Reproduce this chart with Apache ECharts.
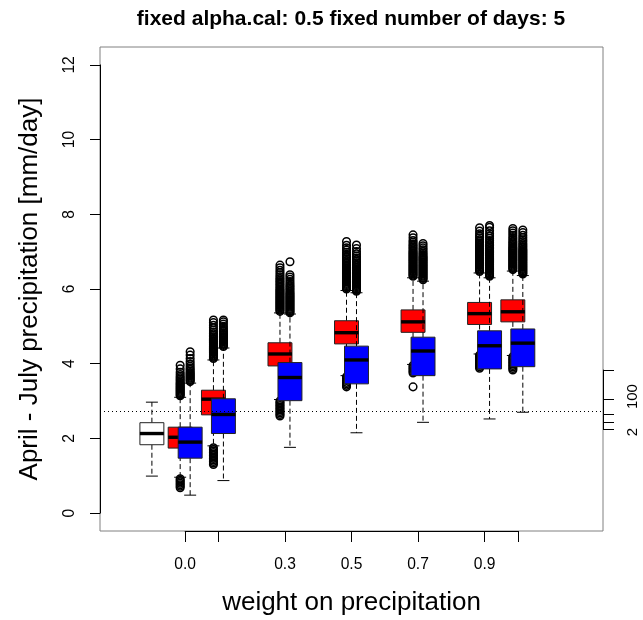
<!DOCTYPE html>
<html>
<head>
<meta charset="utf-8">
<script src="https://cdn.jsdelivr.net/npm/echarts@6/dist/echarts.min.js"></script>
<style>html,body{margin:0;padding:0;background:#fff;}#c{width:643px;height:620px;}</style>
</head>
<body>
<div id="c"></div>
<script>
// ---------------- DATA ----------------
const titleText = 'fixed alpha.cal: 0.5 fixed number of days: 5';
const yTitle = 'April - July precipitation [mm/day]';
const xTitle = 'weight on precipitation';

const yTicks = [0, 2, 4, 6, 8, 10, 12];
const xTickPos = [2, 3, 5, 7, 9, 11, 12];
const xLabelPos = [2, 5, 7, 9, 11];
const xLabels = ['0.0', '0.3', '0.5', '0.7', '0.9'];

const rightTickVals = [2.25, 2.44, 2.65, 3.05, 3.83];
const rightLabelPos = [2.17, 3.12];
const rightLabels = ['2', '100'];

const refLine = 2.73;

// observed (white) box: [lower whisker, Q1, median, Q3, upper whisker]
const obsPos = 1;
const obsStats = [0.99, 1.83, 2.13, 2.42, 2.97];

// simulated groups
const groupPos = [2, 3, 5, 7, 9, 11, 12];
const redStats = [
  [0.96, 1.74, 2.03, 2.30, 3.10],
  [1.80, 2.63, 3.05, 3.29, 4.10],
  [3.04, 3.94, 4.26, 4.56, 5.36],
  [3.68, 4.53, 4.83, 5.15, 5.96],
  [3.98, 4.84, 5.12, 5.44, 6.30],
  [4.26, 5.05, 5.34, 5.64, 6.43],
  [4.22, 5.12, 5.39, 5.71, 6.48]
];
const blueStats = [
  [0.48, 1.47, 1.90, 2.30, 3.48],
  [0.87, 2.13, 2.64, 3.06, 4.42],
  [1.76, 3.01, 3.63, 4.03, 5.33],
  [2.15, 3.46, 4.10, 4.47, 5.90],
  [2.43, 3.68, 4.34, 4.71, 6.21],
  [2.52, 3.86, 4.48, 4.88, 6.30],
  [2.70, 3.92, 4.55, 4.93, 6.36]
];
const redOutHigh = [
  [3.14,3.17,3.20,3.23,3.26,3.29,3.32,3.35,3.38,3.41,3.44,3.47,3.50,3.54,3.58,3.62,3.66,3.71,3.77,3.86,3.96],
  [4.14,4.17,4.20,4.23,4.26,4.29,4.32,4.35,4.38,4.41,4.44,4.47,4.50,4.53,4.56,4.59,4.62,4.65,4.68,4.72,4.76,4.80,4.85,4.90,4.96,5.03,5.10,5.17],
  [5.40,5.43,5.46,5.49,5.52,5.55,5.58,5.61,5.64,5.67,5.70,5.73,5.76,5.79,5.82,5.85,5.88,5.91,5.94,5.97,6.00,6.04,6.08,6.12,6.16,6.20,6.24,6.28,6.33,6.38,6.44,6.50,6.57,6.64],
  [6.00,6.03,6.06,6.09,6.12,6.15,6.18,6.21,6.24,6.27,6.30,6.33,6.36,6.39,6.42,6.45,6.48,6.51,6.54,6.57,6.60,6.64,6.68,6.72,6.76,6.80,6.84,6.88,6.93,6.98,7.04,7.10,7.17,7.27],
  [6.34,6.37,6.40,6.43,6.46,6.49,6.52,6.55,6.58,6.61,6.64,6.67,6.70,6.73,6.76,6.79,6.82,6.85,6.88,6.91,6.94,6.97,7.00,7.04,7.08,7.12,7.16,7.20,7.25,7.30,7.37,7.45],
  [6.47,6.50,6.53,6.56,6.59,6.62,6.65,6.68,6.71,6.74,6.77,6.80,6.83,6.86,6.89,6.92,6.95,6.98,7.01,7.04,7.07,7.10,7.13,7.16,7.20,7.24,7.28,7.32,7.37,7.42,7.48,7.55,7.64],
  [6.52,6.55,6.58,6.61,6.64,6.67,6.70,6.73,6.76,6.79,6.82,6.85,6.88,6.91,6.94,6.97,7.00,7.03,7.06,7.09,7.12,7.16,7.20,7.24,7.28,7.33,7.38,7.44,7.50,7.56,7.62]
];
const redOutLow = [
  [0.68,0.72,0.76,0.80,0.84,0.88,0.92],
  [1.30,1.34,1.38,1.42,1.46,1.50,1.54,1.58,1.62,1.66,1.70,1.75],
  [2.60,2.64,2.68,2.72,2.76,2.80,2.84,2.88,2.92,2.96,3.00],
  [3.38,3.42,3.46,3.50,3.55,3.60,3.65],
  [3.38,3.75,3.79,3.83,3.87,3.91,3.95],
  [3.88,3.92,3.96,4.00,4.04,4.08,4.12,4.16,4.20,4.23],
  [3.83,3.87,3.91,3.95,3.99,4.03,4.07,4.11,4.15,4.19]
];
const blueOutHigh = [
  [3.52,3.55,3.58,3.61,3.64,3.67,3.70,3.73,3.76,3.80,3.84,3.88,3.93,3.99,4.06,4.14,4.23,4.32],
  [4.46,4.49,4.52,4.55,4.58,4.61,4.64,4.67,4.70,4.73,4.76,4.79,4.82,4.86,4.90,4.95,5.00,5.06,5.12,5.17],
  [5.36,5.39,5.42,5.45,5.48,5.51,5.54,5.57,5.60,5.63,5.66,5.69,5.72,5.75,5.78,5.81,5.84,5.87,5.90,5.94,5.98,6.02,6.06,6.10,6.15,6.20,6.26,6.32,6.38,6.73],
  [5.94,5.97,6.00,6.03,6.06,6.09,6.12,6.15,6.18,6.21,6.24,6.27,6.30,6.33,6.36,6.39,6.42,6.45,6.48,6.51,6.54,6.58,6.62,6.66,6.70,6.74,6.78,6.83,6.88,6.94,7.00,7.08,7.18],
  [6.25,6.28,6.31,6.34,6.37,6.40,6.43,6.46,6.49,6.52,6.55,6.58,6.61,6.64,6.67,6.70,6.73,6.76,6.79,6.82,6.85,6.88,6.92,6.96,7.00,7.05,7.10,7.16,7.22],
  [6.34,6.37,6.40,6.43,6.46,6.49,6.52,6.55,6.58,6.61,6.64,6.67,6.70,6.73,6.76,6.79,6.82,6.85,6.88,6.91,6.94,6.97,7.00,7.04,7.08,7.12,7.16,7.20,7.25,7.30,7.36,7.42,7.48,7.56,7.65,7.70],
  [6.40,6.43,6.46,6.49,6.52,6.55,6.58,6.61,6.64,6.67,6.70,6.73,6.76,6.79,6.82,6.85,6.88,6.91,6.94,6.97,7.00,7.03,7.06,7.10,7.14,7.18,7.22,7.27,7.32,7.38,7.44,7.51,7.58]
];

// ---------------- LAYOUT ----------------
const FONT = '"Liberation Sans", Arial, Helvetica, sans-serif';
const F = {l: 100, r: 603, t: 47, b: 531};
const X_MIN = -0.56, X_MAX = 14.56, Y_MIN = -0.48, Y_MAX = 12.48;
const ypx = v => F.b - (v - Y_MIN) / (Y_MAX - Y_MIN) * (F.b - F.t);
const xpx = v => F.l + (v - X_MIN) / (X_MAX - X_MIN) * (F.r - F.l);
const BOX_W = 0.72, OFFSET = 0.15;

// build boxes in drawing order
const boxes = [{x: obsPos, s: obsStats, hi: [], lo: [], color: '#ffffff'}];
groupPos.forEach((p, i) => {
  boxes.push({x: p - OFFSET, s: redStats[i], hi: redOutHigh[i], lo: redOutLow[i], color: '#ff0000'});
  boxes.push({x: p + OFFSET, s: blueStats[i], hi: blueOutHigh[i], lo: [], color: '#0000ff'});
});

function renderItem(params, api) {
  const b = boxes[params.dataIndex];
  const x = api.value(0);
  const P = v => api.coord([x, v]);
  const hw = api.size([BOX_W, 0])[0] / 2;
  const cx = P(0)[0];
  const [lo, q1, md, q3, hi] = b.s;
  const yLo = P(lo)[1], yQ1 = P(q1)[1], yMd = P(md)[1], yQ3 = P(q3)[1], yHi = P(hi)[1];
  const dash = {stroke: '#000', lineWidth: 1, lineDash: [5, 3]};
  const solid = {stroke: '#000', lineWidth: 1};
  const ch = [
    {type: 'line', shape: {x1: cx, y1: yQ3, x2: cx, y2: yHi}, style: dash},
    {type: 'line', shape: {x1: cx, y1: yQ1, x2: cx, y2: yLo}, style: dash},
    {type: 'line', shape: {x1: cx - hw / 2, y1: yHi, x2: cx + hw / 2, y2: yHi}, style: solid},
    {type: 'line', shape: {x1: cx - hw / 2, y1: yLo, x2: cx + hw / 2, y2: yLo}, style: solid},
    {type: 'rect', shape: {x: cx - hw, y: yQ3, width: 2 * hw, height: yQ1 - yQ3}, style: {fill: b.color, stroke: '#222', lineWidth: 1}},
    {type: 'line', shape: {x1: cx - hw, y1: yMd, x2: cx + hw, y2: yMd}, style: {stroke: '#000', lineWidth: 3.4}}
  ];
  b.hi.concat(b.lo).forEach(v => {
    ch.push({type: 'circle', shape: {cx: cx, cy: P(v)[1], r: 3.8}, style: {fill: 'none', stroke: '#000', lineWidth: 1.5}});
  });
  return {type: 'group', children: ch};
}

const chart = echarts.init(document.getElementById('c'), null, {renderer: 'canvas'});
chart.setOption({
  animation: false,
  backgroundColor: '#ffffff',
  title: {
    text: titleText, left: (F.l + F.r) / 2 - 5.5, textAlign: 'center', top: 4,
    textStyle: {fontSize: 21, fontWeight: 'bold', color: '#000', fontFamily: FONT}
  },
  grid: [
    {left: F.l, top: F.t, width: F.r - F.l, height: F.b - F.t, show: true, borderColor: '#808080', borderWidth: 1, backgroundColor: 'transparent', outerBoundsMode: 'none'},
    {left: F.l, width: F.r - F.l, top: ypx(yTicks[yTicks.length - 1]), height: ypx(yTicks[0]) - ypx(yTicks[yTicks.length - 1]), outerBoundsMode: 'none'},
    {left: xpx(xTickPos[0]), width: xpx(xTickPos[xTickPos.length - 1]) - xpx(xTickPos[0]), top: F.t, height: F.b - F.t, outerBoundsMode: 'none'},
    {left: F.l, width: F.r - F.l, top: ypx(rightTickVals[rightTickVals.length - 1]), height: ypx(rightTickVals[0]) - ypx(rightTickVals[rightTickVals.length - 1]), outerBoundsMode: 'none'},
    {left: F.l, width: F.r - F.l, top: ypx(4), height: ypx(2) - ypx(4), outerBoundsMode: 'none'}
  ],
  xAxis: [
    {gridIndex: 0, type: 'value', min: X_MIN, max: X_MAX, show: false},
    {gridIndex: 1, type: 'value', min: X_MIN, max: X_MAX, show: false},
    {gridIndex: 2, type: 'value', min: xTickPos[0], max: xTickPos[xTickPos.length - 1], position: 'bottom',
      axisLine: {show: true, onZero: false, lineStyle: {color: '#000', width: 1}},
      axisTick: {show: true, length: 11, customValues: xTickPos, lineStyle: {color: '#000', width: 1}},
      axisLabel: {show: true, customValues: xLabelPos, formatter: v => xLabels[xLabelPos.indexOf(v)], margin: 26, fontSize: 15.6, color: '#000', fontFamily: FONT},
      splitLine: {show: false},
      name: xTitle, nameLocation: 'middle', nameGap: 59,
      nameTextStyle: {fontSize: 26, color: '#000', fontFamily: FONT}},
    {gridIndex: 3, type: 'value', min: X_MIN, max: X_MAX, show: false},
    {gridIndex: 4, type: 'value', min: X_MIN, max: X_MAX, show: false}
  ],
  yAxis: [
    {gridIndex: 0, type: 'value', min: Y_MIN, max: Y_MAX, show: false},
    {gridIndex: 1, type: 'value', min: yTicks[0], max: yTicks[yTicks.length - 1], interval: 2, position: 'left',
      axisLine: {show: true, onZero: false, lineStyle: {color: '#000', width: 1}},
      axisTick: {show: true, length: 10, lineStyle: {color: '#000', width: 1}},
      axisLabel: {show: true, rotate: 90, margin: 22, fontSize: 15.6, color: '#000', fontFamily: FONT, showMinLabel: true, showMaxLabel: true},
      splitLine: {show: false},
      name: yTitle, nameLocation: 'middle', nameRotate: 90, nameGap: 57,
      nameTextStyle: {fontSize: 26, color: '#000', fontFamily: FONT}},
    {gridIndex: 2, type: 'value', min: Y_MIN, max: Y_MAX, show: false},
    {gridIndex: 3, type: 'value', min: rightTickVals[0], max: rightTickVals[rightTickVals.length - 1], position: 'right',
      axisLine: {show: true, onZero: false, lineStyle: {color: '#000', width: 1}},
      axisTick: {show: true, length: 11, customValues: rightTickVals, lineStyle: {color: '#000', width: 1}},
      axisLabel: {show: false}, splitLine: {show: false}},
    {gridIndex: 4, type: 'value', min: 2, max: 4, position: 'right',
      axisLine: {show: false}, axisTick: {show: false}, splitLine: {show: false},
      axisLabel: {show: true, customValues: rightLabelPos, formatter: v => rightLabels[rightLabelPos.indexOf(v)], rotate: 90, margin: 22, fontSize: 15, color: '#000', fontFamily: FONT}}
  ],
  series: [
    {type: 'line', xAxisIndex: 0, yAxisIndex: 0, data: [], z: 1,
      markLine: {silent: true, symbol: ['none', 'none'], label: {show: false},
        lineStyle: {type: [1, 3], color: '#000', width: 1}, data: [{yAxis: refLine}]}},
    {type: 'custom', xAxisIndex: 0, yAxisIndex: 0, z: 3, renderItem: renderItem,
      encode: {x: 0, y: [1, 2, 3, 4, 5]},
      data: boxes.map(b => [b.x].concat(b.s))}
  ]
});
</script>
</body>
</html>
